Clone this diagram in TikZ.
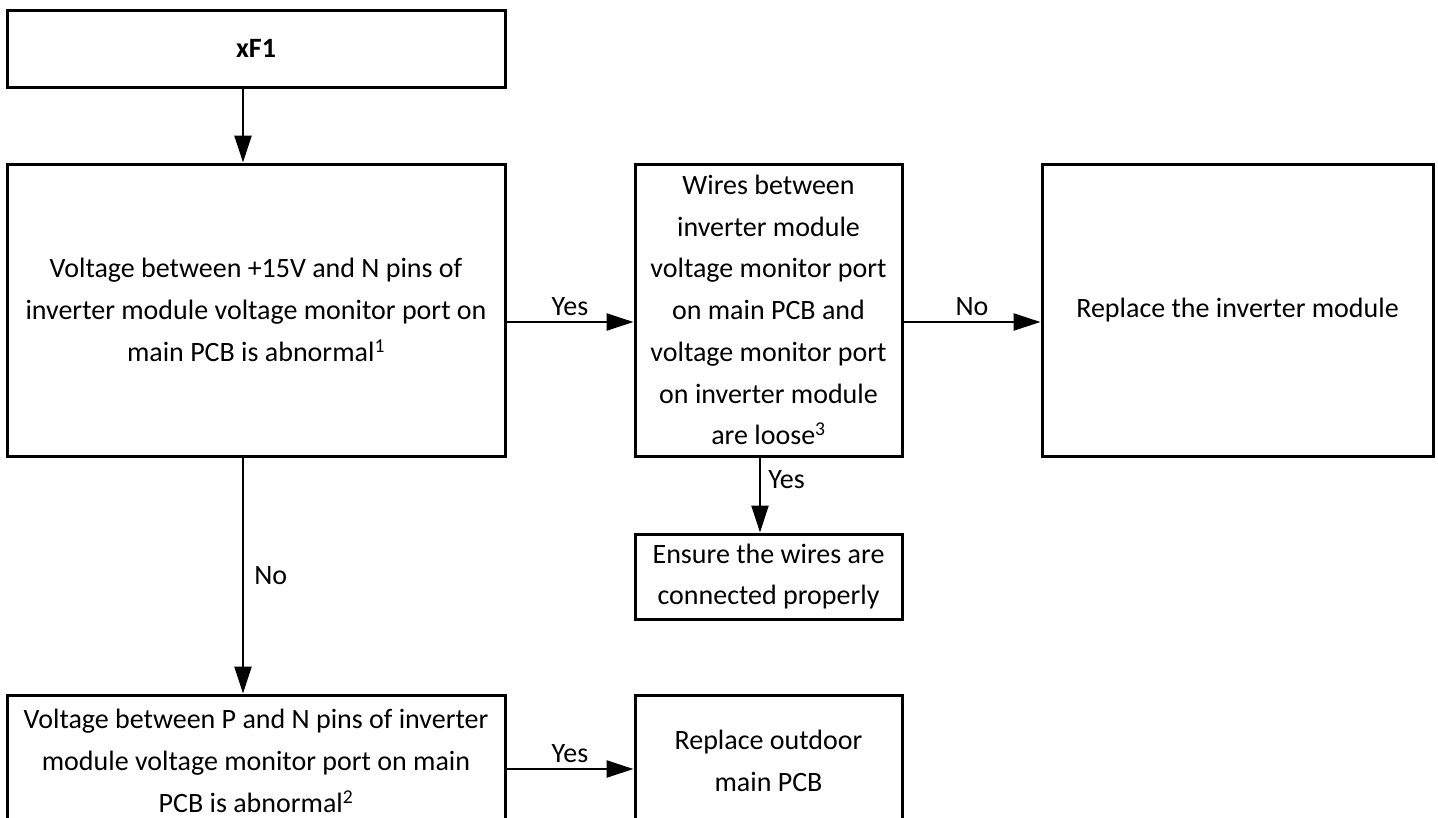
\documentclass[tikz,border=0pt]{standalone}
\usepackage{fontspec}
\setmainfont{Carlito}
\usetikzlibrary{arrows.meta}
\tikzset{
box/.style={draw, line width=3pt, align=center, inner sep=0pt, font=\fontsize{28}{41.7}\selectfont},
link/.style={line width=2.5pt, -{Triangle[length=27pt,width=17pt]}},
lbl/.style={font=\fontsize{28}{30}\selectfont, inner sep=5pt},
}
\begin{document}
\begin{tikzpicture}[x=1pt,y=-1pt]
\useasboundingbox (0,0) rectangle (1438,817);
\clip (0,0) rectangle (1438,817);

\node[box, minimum width=498pt, minimum height=77pt] (xf1) at (256,48.5) {\textbf{xF1}};
\node[box, minimum width=498pt, minimum height=292pt] (chk15) at (256,310)
  {Voltage between +15V and N pins of\\inverter module voltage monitor port on\\main PCB is abnormal\textsuperscript{1}};
\node[box, minimum width=267pt, minimum height=292pt] (wires) at (768.5,310)
  {Wires between\\inverter module\\voltage monitor port\\on main PCB and\\voltage monitor port\\on inverter module\\are loose\textsuperscript{3}};
\node[box, minimum width=391pt, minimum height=292pt] (invmod) at (1237.5,310) {Replace the inverter module};
\node[box, minimum width=267pt, minimum height=85pt] (ensure) at (768.5,576.5)
  {Ensure the wires are\\connected properly};
\node[box, minimum width=498pt, minimum height=132pt] (chkpn) at (256,761)
  {Voltage between P and N pins of inverter\\module voltage monitor port on main\\PCB is abnormal\textsuperscript{2}};
\node[box, minimum width=267pt, minimum height=132pt] (pcb) at (768.5,761)
  {Replace outdoor\\main PCB};

\draw[link] ([xshift=-13pt]xf1.south) -- ([xshift=-13pt]chk15.north);
\draw[link] ([yshift=-12pt]chk15.east) -- node[lbl, above]{Yes} ([yshift=-12pt]wires.west);
\draw[link] ([yshift=-12pt]wires.east) -- node[lbl, above]{No} ([yshift=-12pt]invmod.west);
\draw[link] ([xshift=-8.5pt]wires.south) -- node[lbl, right, pos=0.3, xshift=2pt]{Yes} ([xshift=-8.5pt]ensure.north);
\draw[link] ([xshift=-13pt]chk15.south) -- node[lbl, right, xshift=5pt]{No} ([xshift=-13pt]chkpn.north);
\draw[link] ([yshift=-8pt]chkpn.east) -- node[lbl, above]{Yes} ([yshift=-8pt]pcb.west);
\end{tikzpicture}
\end{document}
